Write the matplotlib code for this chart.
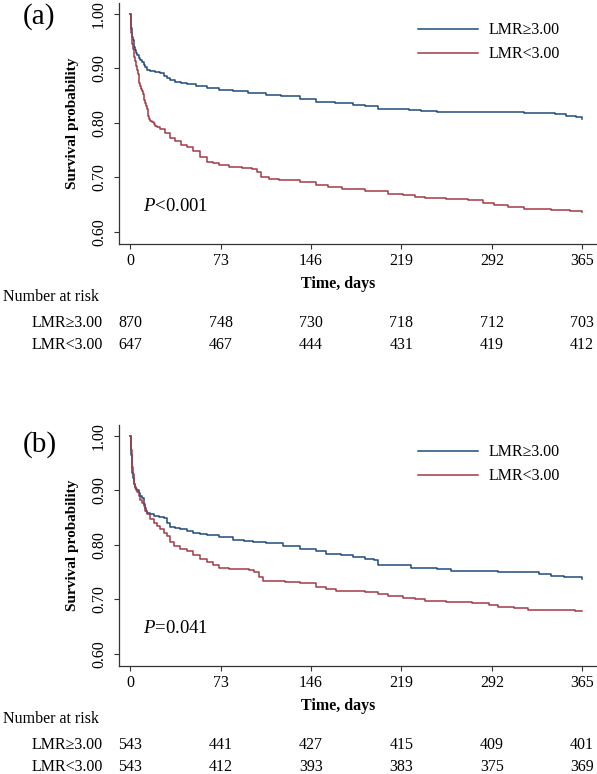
import matplotlib
matplotlib.use("Agg")
import matplotlib.pyplot as plt
from matplotlib.transforms import blended_transform_factory

plt.rcParams['font.family'] = ['Liberation Serif', 'DejaVu Serif']
plt.rcParams['mathtext.fontset'] = 'custom'
plt.rcParams['mathtext.rm'] = 'Liberation Serif'
plt.rcParams['mathtext.it'] = 'Liberation Serif:italic'

# ---------------- data ----------------
groups = ["LMR\u22653.00", "LMR<3.00"]
time_ticks = [0, 73, 146, 219, 292, 365]
y_ticks = [0.60, 0.70, 0.80, 0.90, 1.00]

# Panel (a)
a_hi_t = [0, 0.5, 1, 1.5, 2, 2.7, 3.3, 4, 4.7, 5.4, 6.7, 8, 9.4, 10.7, 12, 13.4, 16, 20, 24, 27, 30, 32,
          36, 41, 46, 53, 62, 72, 83, 95, 110, 122, 137, 150, 165, 180, 190, 200, 212, 225, 235, 248,
          270, 297, 318, 330, 343, 352, 360, 365]
a_hi_s = [1.0, 0.975, 0.965, 0.958, 0.952, 0.946, 0.940, 0.934, 0.929, 0.925, 0.920, 0.916, 0.911, 0.907,
          0.902, 0.898, 0.895, 0.893, 0.891, 0.887, 0.882, 0.878, 0.876, 0.874, 0.871, 0.868, 0.864, 0.861,
          0.858, 0.855, 0.852, 0.849, 0.844, 0.838, 0.836, 0.833, 0.831, 0.826, 0.826, 0.823, 0.822, 0.821,
          0.820, 0.820, 0.818, 0.818, 0.816, 0.813, 0.811, 0.808]
a_lo_t = [0, 0.5, 1, 1.5, 2, 2.7, 3.3, 4, 4.7, 5.4, 6, 6.7, 7.4, 8, 8.7, 9.4, 10, 10.7, 11.4, 12, 12.7,
          13.4, 14, 14.7, 15.4, 16, 17.5, 18.8, 20, 21.4, 24, 28, 32, 36, 41, 46, 51, 56, 62, 67, 72, 80,
          90, 98, 102, 106, 112, 120, 137, 150, 160, 171, 190, 200, 208, 220, 230, 238, 255, 273, 285,
          294, 305, 318, 340, 355, 365]
a_lo_s = [1.0, 0.965, 0.953, 0.944, 0.935, 0.928, 0.921, 0.913, 0.905, 0.898, 0.889, 0.880, 0.873, 0.867,
          0.863, 0.859, 0.854, 0.849, 0.843, 0.837, 0.831, 0.825, 0.819, 0.813, 0.808, 0.804, 0.801, 0.798,
          0.795, 0.792, 0.788, 0.781, 0.772, 0.766, 0.76, 0.755, 0.748, 0.738, 0.729, 0.726, 0.723, 0.72,
          0.718, 0.716, 0.71, 0.7, 0.697, 0.695, 0.692, 0.686, 0.682, 0.679, 0.676, 0.676, 0.670, 0.668,
          0.664, 0.662, 0.660, 0.658, 0.654, 0.649, 0.646, 0.643, 0.641, 0.638, 0.636]
a_risk_hi = [870, 748, 730, 718, 712, 703]
a_risk_lo = [647, 467, 444, 431, 419, 412]
a_p = "$P$<0.001"

# Panel (b)
b_hi_t = [0, 0.5, 1, 1.5, 2, 2.7, 3.3, 4, 4.7, 5.4, 6.7, 8, 9.4, 10.7, 11.4, 12, 12.7, 13.4, 16, 19, 23,
          27, 30, 32, 36, 40, 46, 51, 56, 62, 72, 83, 92, 99, 110, 123, 137, 150, 158, 170, 180, 190, 197,
          200, 225, 227, 240, 248, 259, 280, 297, 318, 330, 340, 350, 365]
b_hi_s = [1.0, 0.965, 0.943, 0.932, 0.922, 0.916, 0.911, 0.906, 0.903, 0.901, 0.895, 0.889, 0.886, 0.883,
          0.876, 0.868, 0.862, 0.859, 0.857, 0.853, 0.851, 0.850, 0.84, 0.833, 0.831, 0.829, 0.825, 0.822,
          0.821, 0.819, 0.815, 0.81, 0.808, 0.805, 0.803, 0.798, 0.792, 0.788, 0.784, 0.781, 0.778, 0.775,
          0.772, 0.764, 0.764, 0.758, 0.757, 0.755, 0.752, 0.752, 0.751, 0.750, 0.747, 0.743, 0.741, 0.738]
b_lo_t = [0, 0.5, 1, 1.5, 2, 2.7, 3.3, 4, 4.7, 5.4, 6.7, 8, 9.4, 10.7, 12, 13.4, 16, 18.8, 21.5, 24, 27,
          29.5, 32, 35, 40, 46, 51, 56, 62, 67, 72, 80, 96, 100, 104, 107, 115, 125, 137, 150, 158, 166,
          190, 200, 208, 220, 230, 238, 255, 276, 290, 297, 310, 321, 340, 359, 365]
b_lo_s = [1.0, 0.975, 0.955, 0.943, 0.93, 0.919, 0.911, 0.905, 0.901, 0.898, 0.890, 0.883, 0.877, 0.871,
          0.863, 0.856, 0.848, 0.840, 0.834, 0.829, 0.822, 0.816, 0.806, 0.798, 0.793, 0.789, 0.782, 0.774,
          0.768, 0.763, 0.758, 0.756, 0.754, 0.75, 0.742, 0.734, 0.733, 0.732, 0.731, 0.723, 0.719, 0.715,
          0.713, 0.710, 0.706, 0.703, 0.700, 0.697, 0.696, 0.693, 0.690, 0.687, 0.684, 0.681, 0.680, 0.679,
          0.679]
b_risk_hi = [543, 441, 427, 415, 409, 401]
b_risk_lo = [543, 412, 393, 383, 375, 369]
b_p = "$P$=0.041"

# ---------------- figure ----------------
W, H = 597, 774
fig = plt.figure(figsize=(W / 100, H / 100), dpi=100)

BLUE = "#1E4B7A"
RED = "#A33A45"
FS = 11.5


def fy(px):
    return 1 - px / H


def panel(top_px, letter, letter_off, hi_t, hi_s, lo_t, lo_s, risk_hi, risk_lo, ptxt):
    left, right, bottom_px = 119, 597, top_px + 241
    ax = fig.add_axes([left / W, fy(bottom_px), (right - left) / W, (bottom_px - top_px) / H])
    ax.step(hi_t, hi_s, where='post', color=BLUE, lw=1.1, label=groups[0])
    ax.step(lo_t, lo_s, where='post', color=RED, lw=1.1, label=groups[1])
    ax.set_xlim(-9.1, 377)
    ax.set_ylim(0.578, 1.020)
    ax.set_xticks(time_ticks)
    ax.set_yticks(y_ticks)
    ax.set_yticklabels([f"{v:.2f}" for v in y_ticks], rotation=90, va='center')
    for s in ['top', 'right']:
        ax.spines[s].set_visible(False)
    for s in ['left', 'bottom']:
        ax.spines[s].set_linewidth(0.9)
        ax.spines[s].set_color('#333333')
    ax.tick_params(direction='out', length=3.6, width=0.8, labelsize=FS, color='#333333')
    ax.tick_params(axis='y', pad=5)
    ax.tick_params(axis='x', pad=3)
    ax.set_xlabel("Time, days", fontsize=FS, fontweight='bold')
    ax.xaxis.label.set_va('center')
    ax.xaxis.set_label_coords(0.458, -0.166)
    ax.set_ylabel("Survival probability", fontsize=11, fontweight='bold')
    ax.yaxis.label.set_va('center')
    ax.yaxis.set_label_coords(-0.098, 0.5)
    ax.text(10.3, 0.647, ptxt, fontsize=13.5, va='center', ha='left')
    ax.legend(loc='upper left', bbox_to_anchor=(0.6255, 0.92), frameon=False, fontsize=FS,
              handlelength=3.75, handletextpad=0.7, labelspacing=0.5, borderpad=0, borderaxespad=0)
    fig.text(23 / W, fy(top_px + letter_off), letter, fontsize=21, ha='left', va='center')

    tr = blended_transform_factory(ax.transData, fig.transFigure)
    fig.text(3 / W, fy(top_px + 294), "Number at risk", fontsize=FS, ha='left', va='center')
    fig.text(32 / W, fy(top_px + 320), groups[0], fontsize=FS, ha='left', va='center')
    fig.text(32 / W, fy(top_px + 342), groups[1], fontsize=FS, ha='left', va='center')
    for t, n1, n2 in zip(time_ticks, risk_hi, risk_lo):
        ax.text(t, fy(top_px + 320), str(n1), transform=tr, fontsize=FS, ha='center', va='center')
        ax.text(t, fy(top_px + 342), str(n2), transform=tr, fontsize=FS, ha='center', va='center')
    return ax


panel(3, "(a)", 14, a_hi_t, a_hi_s, a_lo_t, a_lo_s, a_risk_hi, a_risk_lo, a_p)
panel(425, "(b)", 20, b_hi_t, b_hi_s, b_lo_t, b_lo_s, b_risk_hi, b_risk_lo, b_p)

fig.savefig("out.png", dpi=100)
